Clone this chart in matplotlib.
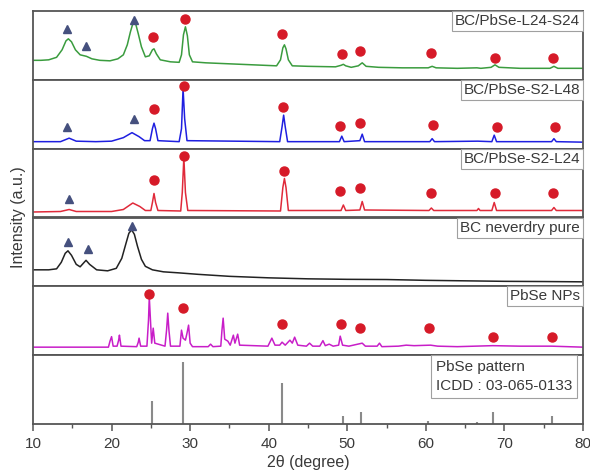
import matplotlib
matplotlib.use("Agg")
import matplotlib.pyplot as plt
from matplotlib.ticker import MultipleLocator

plt.rcParams['font.family'] = ['Liberation Sans', 'DejaVu Sans']

# ---------------- data (heights in arbitrary units per panel) ----------------
green_x = [10, 11, 12, 13, 13.7, 14.2, 14.5, 14.9, 15.4, 16.0, 16.8, 17.5, 18.5, 19.8, 20.8, 21.5, 22.0, 22.4,
           22.7, 22.9, 23.1, 23.4, 23.8, 24.3, 24.8, 25.2, 25.4, 25.7, 26.2, 27.5, 28.6, 28.9, 29.15, 29.4,
           29.65, 29.9, 30.3, 32, 35, 38, 41.0, 41.5, 41.8, 42.0, 42.2, 42.5, 43.0, 45, 48.5, 49.2, 49.5,
           49.8, 50.5, 51.4, 51.9, 52.4, 54, 57, 60.3, 60.8, 61.3, 64, 66.5, 67, 68.3, 68.8, 69.3, 72, 75.8,
           76.3, 76.8, 80]
green_y = [19.5, 19.5, 20, 22.5, 30, 39, 41, 38, 30, 25, 23.5, 21, 19.5, 19, 21, 25, 35, 48,
           56, 57, 55, 46, 33, 23, 24, 30, 31, 26, 20, 18, 17.5, 25, 45, 53,
           44, 25, 18, 17, 16, 15, 14, 20, 32, 35, 31, 20, 14, 13.5, 13, 14.5, 15.5,
           14, 12.5, 14, 17, 13.5, 12.5, 12, 12, 13.5, 12, 11.5, 12, 11.5, 12.5, 15, 12.5, 11.5, 11.5,
           13.5, 11.5, 11.5]

blue_x = [10, 13.5, 14.6, 15.5, 18, 20, 21.5, 22.6, 23.5, 24.2, 24.9, 25.2, 25.4, 25.6, 25.9, 28.6, 28.9,
          29.1, 29.3, 29.6, 41.4, 41.7, 41.9, 42.1, 42.4, 49.0, 49.3, 49.6, 51.6, 51.9, 52.2, 60.5, 60.8,
          61.1, 66.6, 68.4, 68.7, 69.0, 76.0, 76.3, 76.6, 80]
blue_y = [7, 7, 10.5, 7.5, 7, 7.5, 11, 16, 12, 8, 8, 20, 25.5, 20, 8, 7, 20,
          60, 30, 8, 7, 22, 33.5, 22, 7, 7, 12.5, 7, 8, 14.5, 7, 7, 10,
          7, 7.5, 7, 13.5, 7, 7, 10, 7, 6.5]

red_x = [10, 13.5, 14.6, 15.5, 20, 21.5, 22.7, 23.6, 24.3, 25.0, 25.2, 25.4, 25.6, 25.9, 28.8, 29.0, 29.2,
         29.4, 29.7, 41.5, 41.8, 42.0, 42.2, 42.5, 49.2, 49.5, 49.8, 51.6, 51.9, 52.2, 60.4, 60.7, 61.0,
         66.5, 66.7, 66.9, 68.4, 68.7, 69.0, 76.0, 76.3, 76.6, 80]
red_y = [5.5, 6, 8, 6, 6, 8, 14.5, 11, 7, 7, 15, 24, 15, 7, 6.5, 25, 60,
         25, 7, 6.5, 30, 39, 30, 7, 7, 12.5, 7, 7.5, 16, 7.5, 7, 9.5, 7,
         7, 9, 7, 7, 15, 7, 7, 10, 7, 7]

black_x = [10, 12, 13.0, 13.6, 14.1, 14.45, 14.9, 15.5, 16.0, 16.4, 16.75, 17.2, 18.1, 19.5, 20.6, 21.3,
           21.8, 22.2, 22.55, 22.9, 23.3, 23.8, 24.3, 25.2, 26.6, 28.5, 31, 35, 40, 45, 50, 55, 60, 65,
           70, 75, 80]
black_y = [16.5, 16.5, 17.5, 24, 33, 35.5, 31, 22, 19.5, 23, 26, 22, 16.5, 15.5, 18, 28,
           42, 53, 56.5, 52, 40, 27, 20, 16.5, 14.5, 13.5, 12, 10, 8.5, 7.5, 7, 6.8, 6, 5.5,
           5, 4.8, 4.5]

mag_x = [10, 19.6, 19.8, 20.0, 20.2, 20.7, 20.9, 21.0, 21.2, 23.2, 23.4, 23.5, 23.7, 24.5, 24.7, 24.8,
         24.95, 25.1, 25.3, 25.5, 26.8, 27.0, 27.15, 27.3, 27.5, 28.7, 28.9, 29.1, 29.4, 29.6, 29.8, 30.0,
         30.3, 32.3, 32.6, 32.9, 33.9, 34.05, 34.2, 34.4, 34.8, 35.1, 35.5, 35.7, 36.05, 36.3, 39.9, 40.4,
         40.8, 41.4, 41.7, 42.1, 42.7, 43.0, 43.3, 43.7, 44.8, 45.2, 45.6, 46.5, 46.9, 47.2, 47.7, 48.2,
         48.9, 49.1, 49.4, 50.2, 51.9, 52.3, 53.8, 54.1, 54.4, 56.5, 57.5, 58.5, 60.6, 61.5, 64, 68.5,
         72, 76, 80]
mag_y = [8, 8, 14, 18.5, 9, 9, 15, 20, 9, 8.5, 13, 17, 9, 9, 35, 58,
         35, 12, 27, 12, 9, 25, 42, 25, 9, 9, 25, 17, 15, 22, 30, 12,
         8.5, 8.5, 11, 8.5, 9, 25, 37, 16, 14, 10, 20, 12, 21, 10, 9, 17,
         10, 10, 13, 10, 15, 12, 18, 10, 9, 12, 9, 9, 14.5, 9.5, 11, 9,
         10, 19, 10, 9, 12, 9, 9, 12, 8.5, 9, 10, 9.5, 10, 9, 8.5, 9.5,
         9, 9, 8]

stick_x = [25.2, 29.1, 41.7, 49.4, 51.7, 60.3, 66.5, 68.6, 76.1]
stick_h = [23.3, 62.3, 40.7, 8, 12.3, 3.3, 2.3, 12.3, 8]

# markers: (positions, heights) per panel
green_tri_x = [14.3, 16.8, 22.9]
green_tri_y = [50.8, 33.8, 60]
green_dot_x = [25.3, 29.4, 41.7, 49.3, 51.6, 60.7, 68.8, 76.2]
green_dot_y = [42.8, 60.8, 45.8, 25.8, 29.1, 26.5, 21.5, 21.5]

blue_tri_x = [14.3, 22.8]
blue_tri_y = [22, 29.7]
blue_dot_x = [25.4, 29.2, 41.8, 49.1, 51.6, 60.9, 69.0, 76.4]
blue_dot_y = [39.4, 62.7, 41.4, 22.7, 25.4, 23.7, 21.4, 21.4]

red_tri_x = [14.6]
red_tri_y = [18.5]
red_dot_x = [25.4, 29.2, 42.0, 49.1, 51.6, 60.7, 68.8, 76.2]
red_dot_y = [37.5, 61.8, 46.8, 26.8, 29.8, 24.8, 24.8, 24.8]

black_tri_x = [14.4, 17.0, 22.55]
black_tri_y = [44.6, 37, 60.5]

mag_dot_x = [24.8, 29.1, 41.65, 49.2, 51.6, 60.4, 68.5, 76.0]
mag_dot_y = [60.9, 46.9, 30.9, 30.9, 26.9, 26.9, 17.9, 17.9]

labels = ["BC/PbSe-L24-S24", "BC/PbSe-S2-L48", "BC/PbSe-S2-L24", "BC neverdry pure", "PbSe NPs",
          "PbSe pattern\nICDD : 03-065-0133"]
xticks = [10, 20, 30, 40, 50, 60, 70, 80]

# ---------------- figure ----------------
fig = plt.figure(figsize=(5.9, 4.73), dpi=100)
gs = fig.add_gridspec(6, 1, left=33/590, right=583/590, bottom=1-424/473, top=1-11/473, hspace=0)
axes = [fig.add_subplot(gs[i]) for i in range(6)]

H = 68.8
spine_c = '#555555'
txt_c = '#3a3a3a'
tri_c = '#45507e'
dot_c = '#d61a28'

series = [(green_x, green_y, '#3a9c3e'), (blue_x, blue_y, '#1f1fe0'), (red_x, red_y, '#e02a3a'),
          (black_x, black_y, '#222222'), (mag_x, mag_y, '#c81ec8')]
for ax, (sx, sy, c) in zip(axes[:5], series):
    ax.plot(sx, sy, color=c, lw=1.1)

axes[5].vlines(stick_x, 0, stick_h, color='#8a8a8a', lw=1.5)

tri_sets = [(axes[0], green_tri_x, green_tri_y), (axes[1], blue_tri_x, blue_tri_y),
            (axes[2], red_tri_x, red_tri_y), (axes[3], black_tri_x, black_tri_y)]
for ax, tx, ty in tri_sets:
    ax.plot(tx, ty, ls='none', marker='^', ms=6, color=tri_c, zorder=5)
dot_sets = [(axes[0], green_dot_x, green_dot_y), (axes[1], blue_dot_x, blue_dot_y),
            (axes[2], red_dot_x, red_dot_y), (axes[4], mag_dot_x, mag_dot_y)]
for ax, dx, dy in dot_sets:
    ax.plot(dx, dy, ls='none', marker='o', ms=6.5, color=dot_c, zorder=5, clip_on=False)

box = dict(boxstyle='square,pad=0.2', fc='white', ec='#a0a0a0', lw=0.8)
box2 = dict(boxstyle='square,pad=0.3', fc='white', ec='#a0a0a0', lw=0.8)
for i, ax in enumerate(axes):
    ax.set_xlim(10, 80)
    ax.set_ylim(0, H)
    ax.set_yticks([])
    for s in ax.spines.values():
        s.set_color(spine_c)
        s.set_linewidth(1.3)
    ax.xaxis.set_major_locator(MultipleLocator(10))
    ax.xaxis.set_minor_locator(MultipleLocator(5))
    if i < 5:
        ax.tick_params(axis='x', which='both', bottom=False, labelbottom=False)
        ax.text(0.995, 0.955, labels[i], transform=ax.transAxes, ha='right', va='top',
                fontsize=11, color=txt_c, bbox=box, zorder=6)
    else:
        ax.tick_params(axis='x', which='major', direction='out', length=5, width=1.1,
                       color=spine_c, labelsize=11, labelcolor=txt_c, pad=4)
        ax.tick_params(axis='x', which='minor', direction='out', length=3, width=1.0, color=spine_c)
        ax.set_xticks(xticks)
        ax.text(0.732, 0.93, labels[i], transform=ax.transAxes, ha='left', va='top',
                fontsize=11, color=txt_c, bbox=box2, linespacing=1.45, zorder=6)
        ax.set_xlabel("2θ (degree)", fontsize=11.5, color=txt_c, labelpad=3)

fig.text(0.032, (1 - 217/473), "Intensity (a.u.)", rotation=90, ha='center', va='center',
         fontsize=11.5, color=txt_c)

fig.savefig("out.png", dpi=100)
